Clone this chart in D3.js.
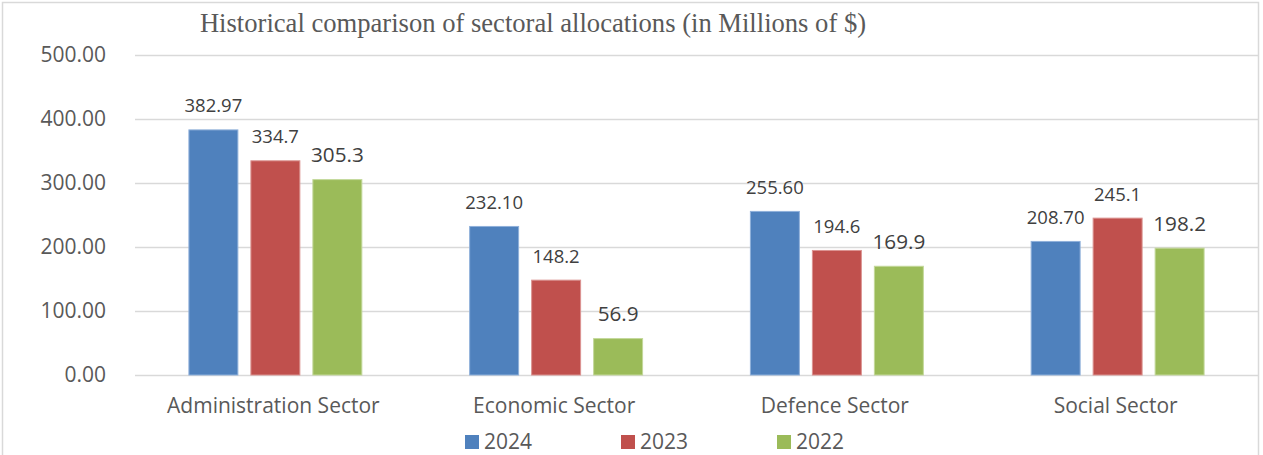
<!DOCTYPE html>
<html>
<head>
<meta charset="utf-8">
<script src="https://cdn.jsdelivr.net/npm/d3@7"></script>
<style>
  html, body { margin: 0; padding: 0; background: #ffffff; }
  svg { display: block; }
</style>
</head>
<body>
<svg id="chart" width="1263" height="455"></svg>
<script>
// Sector categories and yearly allocations (millions of $)
const categories = ["Administration Sector", "Economic Sector", "Defence Sector", "Social Sector"];
const years = ["2024", "2023", "2022"];
const values2024 = [382.97, 232.10, 255.60, 208.70];
const values2023 = [334.7, 148.2, 194.6, 245.1];
const values2022 = [305.3, 56.9, 169.9, 198.2];
// Labels as printed above each bar
const labels2024 = ["382.97", "232.10", "255.60", "208.70"];
const labels2023 = ["334.7", "148.2", "194.6", "245.1"];
const labels2022 = ["305.3", "56.9", "169.9", "198.2"];
const yTicks = [0, 100, 200, 300, 400, 500];
const titleText = "Historical comparison of sectoral allocations (in Millions of $)";

const colors = { "2024": "#4F81BD", "2023": "#C0504D", "2022": "#9BBB59" };
const strokes = { "2024": "#8FB0DA", "2023": "#DB9391", "2022": "#C3D89A" };
const labelSize = { "2024": 18.5, "2023": 18.5, "2022": 20.7 };

const seriesValues = { "2024": values2024, "2023": values2023, "2022": values2022 };
const seriesLabels = { "2024": labels2024, "2023": labels2023, "2022": labels2022 };

const rows = categories.map((c, i) => ({
  category: c,
  bars: years.map(yr => ({ year: yr, value: seriesValues[yr][i], label: seriesLabels[yr][i] }))
}));

const svg = d3.select("#chart");
const plot = { left: 135, right: 1258, top: 55, bottom: 375 };
const axisFont = "'Open Sans', sans-serif";

// chart border
svg.append("rect")
  .attr("x", 2.5).attr("y", 2.5)
  .attr("width", 1256).attr("height", 460)
  .attr("fill", "#ffffff")
  .attr("stroke", "#d9d9d9").attr("stroke-width", 1.5);

const y = d3.scaleLinear().domain([0, 500]).range([plot.bottom, plot.top]);
const x0 = d3.scaleBand().domain(categories).range([plot.left, plot.right]).padding(0);
const groupW = x0.bandwidth() * 0.616;
const x1 = d3.scaleBand().domain(years)
  .range([(x0.bandwidth() - groupW) / 2, (x0.bandwidth() + groupW) / 2])
  .paddingInner(0.21).paddingOuter(0);

// gridlines and value axis
const yAxis = d3.axisLeft(y)
  .tickValues(yTicks)
  .tickFormat(d3.format(".2f"))
  .tickSize(-(plot.right - plot.left))
  .tickPadding(29);

const gy = svg.append("g")
  .attr("transform", `translate(${plot.left},0)`)
  .call(yAxis);
gy.select(".domain").remove();
gy.selectAll(".tick line").attr("stroke", "#d9d9d9").attr("stroke-width", 1.6);
gy.selectAll(".tick text")
  .attr("fill", "#595959")
  .attr("font-family", axisFont)
  .attr("font-size", 21);

// category axis
const xAxis = d3.axisBottom(x0).tickSize(0).tickPadding(23);
const gx = svg.append("g")
  .attr("transform", `translate(-2,${plot.bottom})`)
  .call(xAxis);
gx.select(".domain").remove();
gx.selectAll(".tick text")
  .attr("fill", "#595959")
  .attr("font-family", axisFont)
  .attr("font-size", 21);

// bars
const groups = svg.append("g").selectAll("g")
  .data(rows).join("g")
  .attr("transform", d => `translate(${x0(d.category)},0)`);

groups.selectAll("rect")
  .data(d => d.bars).join("rect")
  .attr("x", d => x1(d.year))
  .attr("y", d => y(d.value))
  .attr("width", x1.bandwidth())
  .attr("height", d => y(0) - y(d.value))
  .attr("fill", d => colors[d.year])
  .attr("stroke", d => strokes[d.year])
  .attr("stroke-width", 1);

// value labels
groups.selectAll("text.val")
  .data(d => d.bars).join("text")
  .attr("class", "val")
  .attr("x", d => x1(d.year) + x1.bandwidth() / 2)
  .attr("y", d => y(d.value) - 17.5)
  .attr("text-anchor", "middle")
  .attr("font-family", axisFont)
  .attr("font-size", d => labelSize[d.year])
  .attr("fill", "#404040")
  .text(d => d.label);

// title
svg.append("text")
  .attr("x", 533).attr("y", 32)
  .attr("text-anchor", "middle")
  .attr("font-family", "'Liberation Serif', 'Times New Roman', serif")
  .attr("font-size", 26.6)
  .attr("fill", "#595959")
  .text(titleText);

// legend
const legend = svg.append("g").attr("transform", "translate(465,435)");
const items = legend.selectAll("g")
  .data(years).join("g")
  .attr("transform", (d, i) => `translate(${i * 156},0)`);
items.append("rect")
  .attr("width", 14).attr("height", 14)
  .attr("fill", d => colors[d]);
items.append("text")
  .attr("x", 19).attr("y", 14)
  .attr("font-family", axisFont)
  .attr("font-size", 21)
  .attr("fill", "#595959")
  .text(d => d);
</script>
</body>
</html>
